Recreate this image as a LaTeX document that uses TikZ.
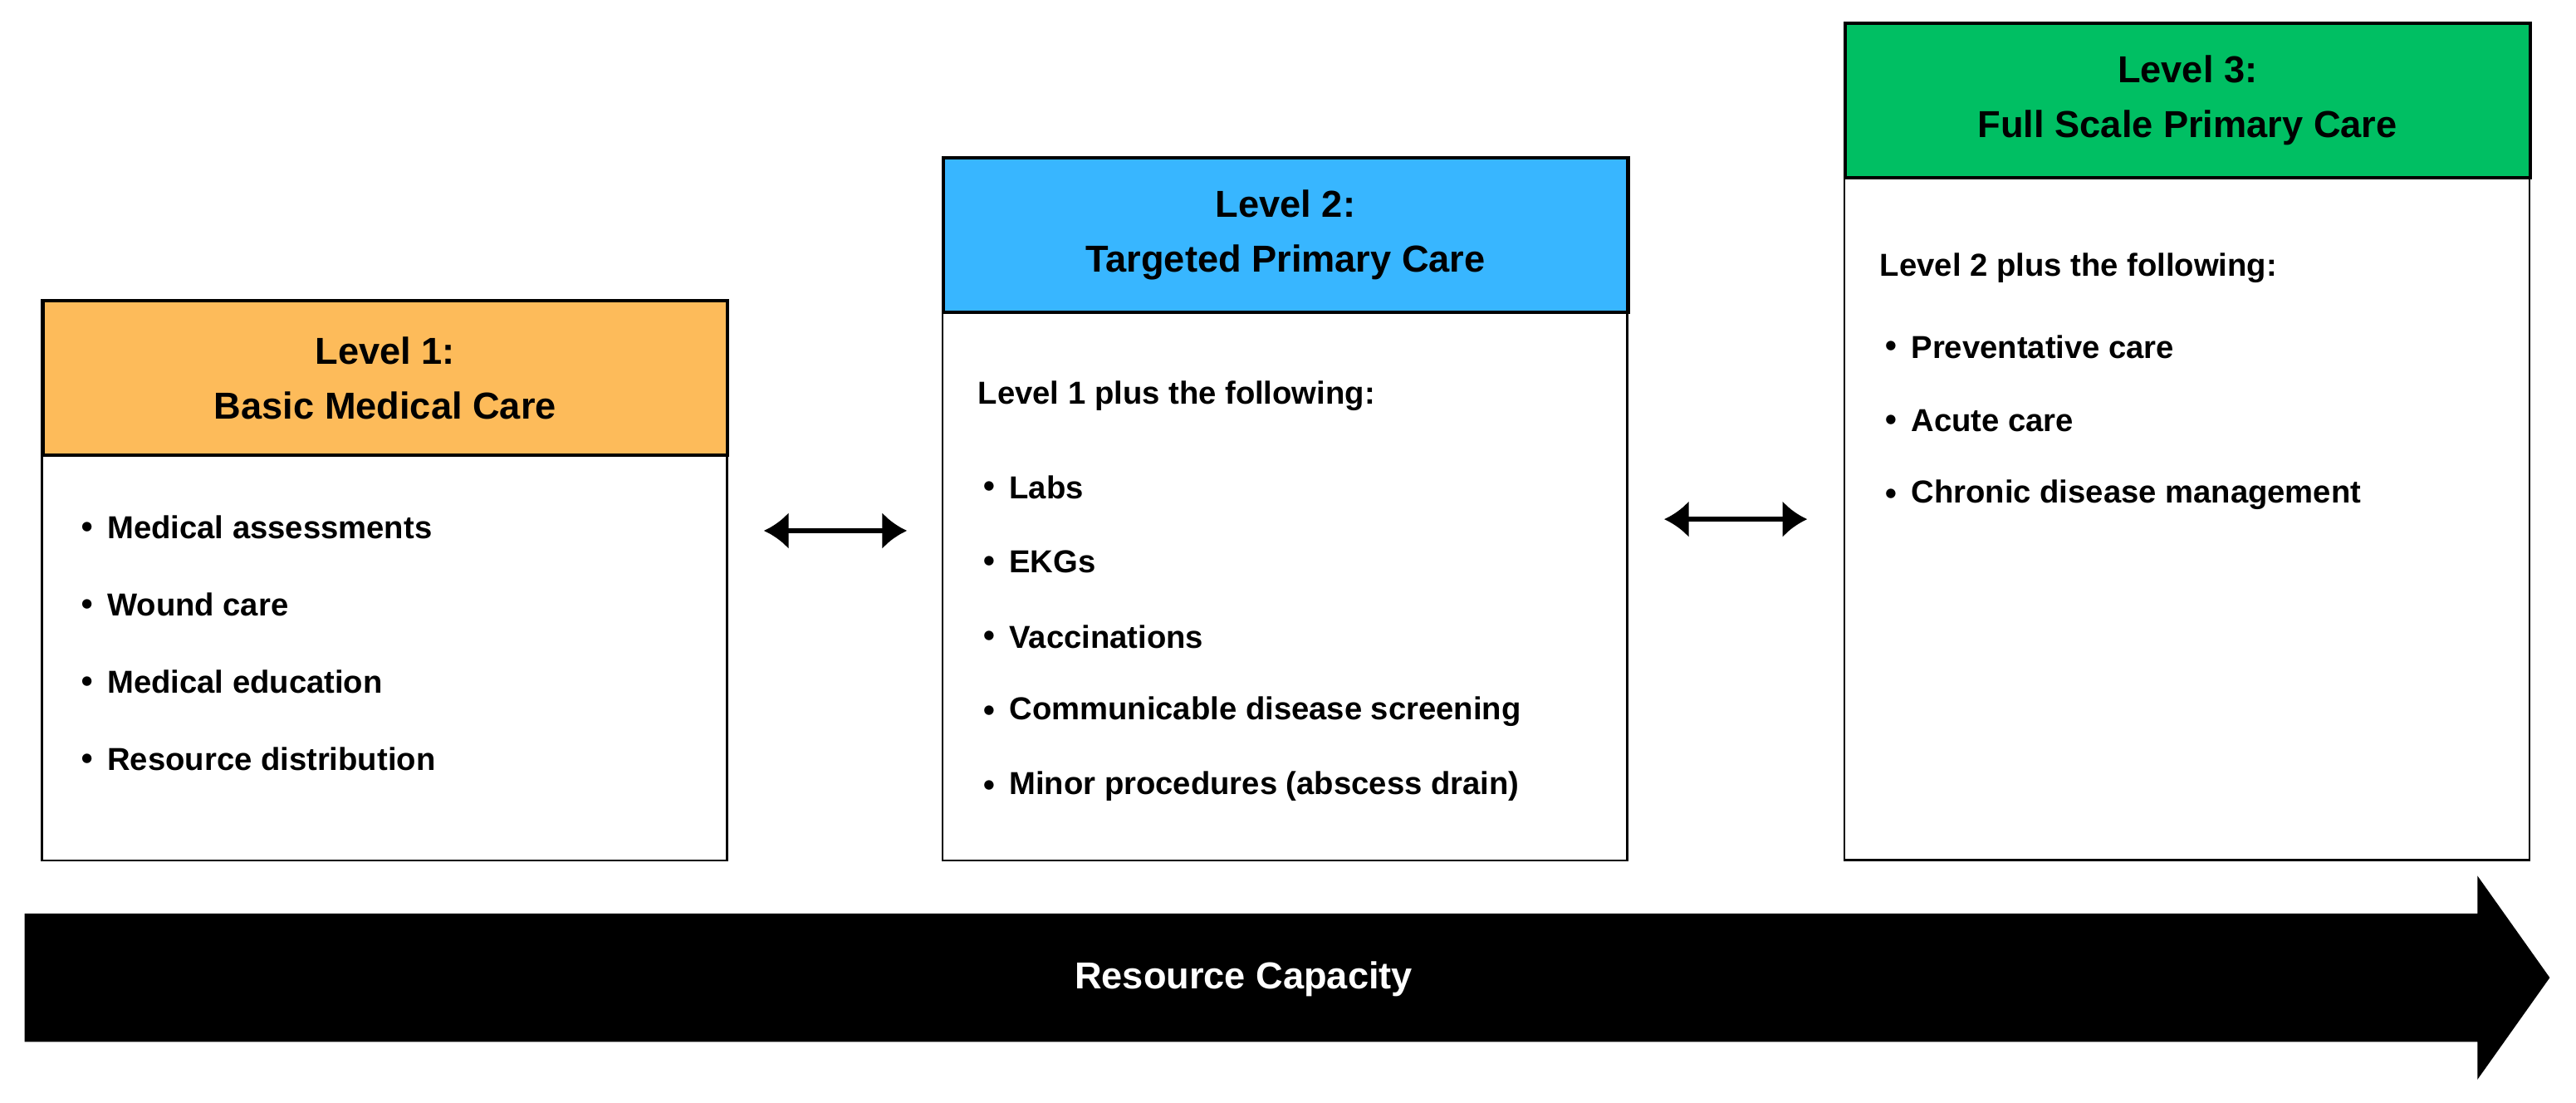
\documentclass[tikz,border=0pt]{standalone}
\usepackage{fontspec}
\setmainfont{Liberation Sans}
\usetikzlibrary{arrows.meta,positioning}
\definecolor{lvlorange}{HTML}{FDBB5A}
\definecolor{lvlblue}{HTML}{38B6FF}
\definecolor{lvlgreen}{HTML}{00BF63}

\tikzset{
  head/.style={draw, line width=1.2pt, minimum width=8.34cm, minimum height=1.88cm,
    anchor=north west, align=center, font=\fontsize{13}{19}\selectfont\bfseries},
  body/.style={draw, line width=0.8pt, minimum width=8.34cm, anchor=north west, fill=white},
  item/.style={anchor=west, font=\fontsize{11}{13}\selectfont\bfseries, inner sep=0pt},
  dot/.style={anchor=center, font=\fontsize{8}{10}\selectfont, inner sep=0pt},
  link/.style={{Latex[length=0.3cm,width=0.45cm]}-{Latex[length=0.3cm,width=0.45cm]}, line width=1.6pt}
}

\begin{document}
\begin{tikzpicture}[x=0.02cm,y=-0.02cm]
\useasboundingbox (0,0) rectangle (1568,671);

% level 1
\node[body, minimum height=4.94cm] (b1) at (25,276) {};
\node[head, fill=lvlorange] (h1) at (25,182) {Level 1:\\Basic Medical Care};
\foreach \t [count=\i] in {Medical assessments,Wound care,Medical education,Resource distribution}{
  \node[dot] (d1\i) at (53,274+47*\i) {$\bullet$};
  \node[item] (t1\i) at (65,274+47*\i) {\t};
}

% level 2
\node[body, minimum height=6.7cm] (b2) at (573,188) {};
\node[head, fill=lvlblue] (h2) at (573,95) {Level 2:\\Targeted Primary Care};
\node[item] (p2) at (595,241) {Level 1 plus the following:};
\foreach \t [count=\i] in {Labs,EKGs,Vaccinations,Communicable disease screening,Minor procedures (abscess drain)}{
  \node[dot] (d2\i) at (602,251+45.5*\i) {$\bullet$};
  \node[item] (t2\i) at (614,251+45.5*\i) {\t};
}

% level 3
\node[body, minimum height=8.32cm] (b3) at (1122,107) {};
\node[head, fill=lvlgreen] (h3) at (1122,13) {Level 3:\\Full Scale Primary Care};
\node[item] (p3) at (1144,163) {Level 2 plus the following:};
\foreach \t [count=\i] in {Preventative care,Acute care,Chronic disease management}{
  \node[dot] (d3\i) at (1151,166+45*\i) {$\bullet$};
  \node[item] (t3\i) at (1163,166+45*\i) {\t};
}

% links
\coordinate (a1) at (465,323);
\coordinate (a2) at (552,323);
\coordinate (a3) at (1013,316);
\coordinate (a4) at (1100,316);
\draw[link] (a1) -- (a2);
\draw[link] (a3) -- (a4);

% capacity arrow
\fill (15,556) -- (1508,556) -- (1508,533) -- (1552,595) -- (1508,657) -- (1508,634) -- (15,634) -- cycle;
\node[text=white, font=\fontsize{13}{15}\selectfont\bfseries] (cap) at (757,596) {Resource Capacity};
\end{tikzpicture}
\end{document}
